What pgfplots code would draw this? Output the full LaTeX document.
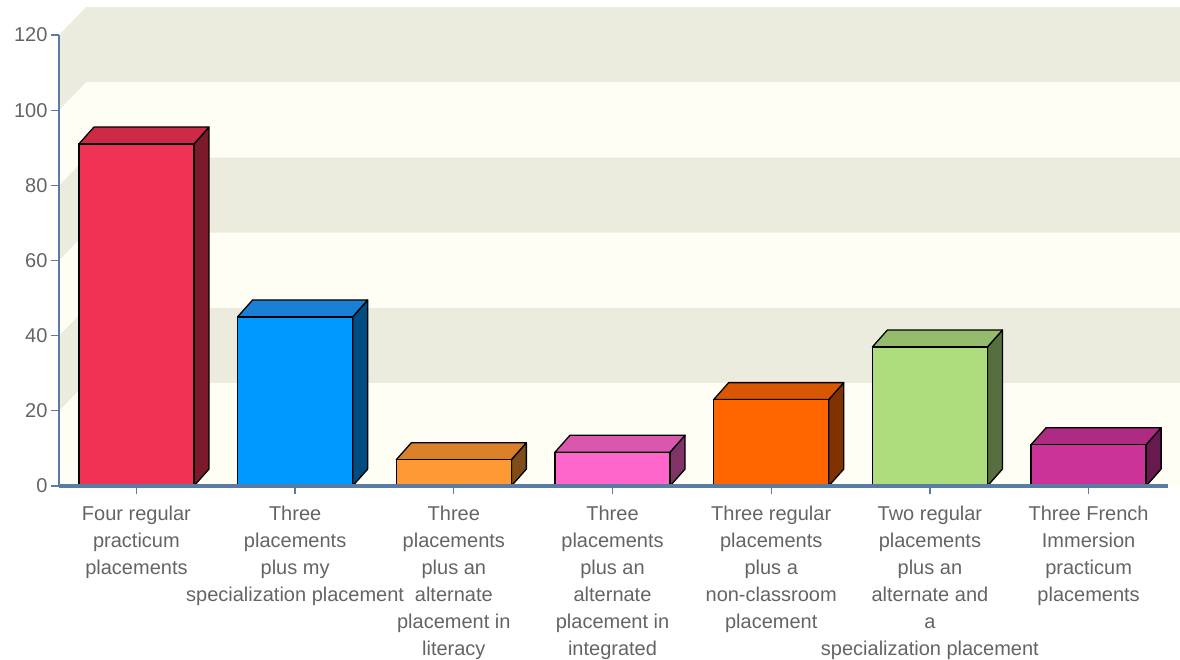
\documentclass[border=0pt]{standalone}
\usepackage{pgfplots}
\pgfplotsset{compat=1.18}
\usepackage{pgfplotstable}
\usepackage{fontspec}
\setmainfont{Liberation Sans}

\definecolor{beige}{HTML}{ECECDE}
\definecolor{cream}{HTML}{FEFEF5}
\definecolor{axiscol}{HTML}{5A7BA3}
\definecolor{txt}{HTML}{646464}
\definecolor{front0}{HTML}{F03355}\definecolor{top0}{HTML}{CC2A47}\definecolor{side0}{HTML}{7A1A2B}
\definecolor{front1}{HTML}{0099FF}\definecolor{top1}{HTML}{1A80D6}\definecolor{side1}{HTML}{004C80}
\definecolor{front2}{HTML}{FF9933}\definecolor{top2}{HTML}{D98028}\definecolor{side2}{HTML}{7F4C1A}
\definecolor{front3}{HTML}{FF66CC}\definecolor{top3}{HTML}{D957AD}\definecolor{side3}{HTML}{803366}
\definecolor{front4}{HTML}{FF6600}\definecolor{top4}{HTML}{D95700}\definecolor{side4}{HTML}{803300}
\definecolor{front5}{HTML}{AEDD7E}\definecolor{top5}{HTML}{94BC6C}\definecolor{side5}{HTML}{576F40}
\definecolor{front6}{HTML}{CC3399}\definecolor{top6}{HTML}{AD2B82}\definecolor{side6}{HTML}{661A4D}

\pgfplotstableread{
idx value
0 91
1 45
2 7
3 9
4 23
5 37
6 11
}\datatable

\def\bw{0.725}
\def\ddx{0.0945}
\def\ddy{4.5}
\def\wdx{0.17}
\def\wdy{7.43}

\begin{document}
\begin{tikzpicture}
\begin{axis}[
  at={(0,0)}, anchor=south west,
  width=1109pt, height=451pt, scale only axis,
  xmin=-0.488, xmax=6.5, ymin=0, ymax=120,
  clip=false, axis on top,
  axis x line=bottom, axis y line=left,
  x axis line style={-, line width=3.5pt, color=axiscol},
  y axis line style={-, line width=2pt, color=axiscol},
  tick align=outside, major tick length=8pt,
  tick style={color=axiscol, line width=1.3pt},
  ytick={0,20,...,120},
  xtick={0,...,6},
  xticklabels={{Four regular\\practicum\\placements},
    {Three\\placements\\plus my\\specialization placement},
    {Three\\placements\\plus an\\alternate\\placement in\\literacy},
    {Three\\placements\\plus an\\alternate\\placement in\\integrated},
    {Three regular\\placements\\plus a\\non-classroom\\placement},
    {Two regular\\placements\\plus an\\alternate and\\a\\specialization placement},
    {Three French\\Immersion\\practicum\\placements}},
  /pgf/number format/assume math mode=true,
  ticklabel style={font=\fontsize{20}{27}\selectfont, text=txt},
  xticklabel style={align=center, anchor=north, yshift=-8pt},
  yticklabel style={anchor=east, xshift=0pt},
]
% floor
\addplot[draw=none, fill=cream] coordinates {(-0.488,0) (7,0) (7,\wdy) (-0.488+\wdx,\wdy)} --cycle;
% back wall and left wall bands
\pgfplotsinvokeforeach{0,1,2,3,4,5}{
  \pgfmathsetmacro\ylo{20*#1}
  \pgfmathsetmacro\yhi{20*#1+20}
  \pgfmathsetmacro\ylos{20*#1+\wdy}
  \pgfmathsetmacro\yhis{20*#1+20+\wdy}
  \pgfmathsetmacro\xw{-0.488+\wdx}
  \pgfmathparse{mod(#1,2)==0 ? 1 : 0}
  \ifnum\pgfmathresult>0 \def\bandcol{cream}\else\def\bandcol{beige}\fi
  \edef\doplot{\noexpand\addplot[draw=none, fill=\bandcol] coordinates {(-0.488,\ylo) (\xw,\ylos) (7,\ylos) (7,\yhis) (\xw,\yhis) (-0.488,\yhi)} --cycle;}
  \doplot
}
% bars
\pgfplotsinvokeforeach{0,...,6}{
  \pgfplotstablegetelem{#1}{value}\of\datatable
  \pgfmathsetmacro\v{\pgfplotsretval}
  \pgfmathsetmacro\vt{\pgfplotsretval+\ddy}
  \pgfmathsetmacro\xl{#1-\bw/2}
  \pgfmathsetmacro\xr{#1+\bw/2}
  \pgfmathsetmacro\xlb{#1-\bw/2+\ddx}
  \pgfmathsetmacro\xrb{#1+\bw/2+\ddx}
  \edef\doplot{\noexpand\addplot[draw=black, line width=1.3pt, line join=round, fill=side#1] coordinates {(\xr,0) (\xrb,\ddy) (\xrb,\vt) (\xr,\v)} --cycle;
    \noexpand\addplot[draw=black, line width=1.3pt, line join=round, fill=top#1] coordinates {(\xl,\v) (\xr,\v) (\xrb,\vt) (\xlb,\vt)} --cycle;}
  \doplot
  \addplot[ybar, bar width=\bw, bar shift=0pt, draw=black, line width=1.3pt, fill=front#1]
    table[x=idx, y=value, restrict x to domain=#1:#1] {\datatable};
}
\end{axis}
\pgfresetboundingbox
\path[use as bounding box] (-59pt,-173pt) rectangle (1121pt,486pt);
\end{tikzpicture}
\end{document}
